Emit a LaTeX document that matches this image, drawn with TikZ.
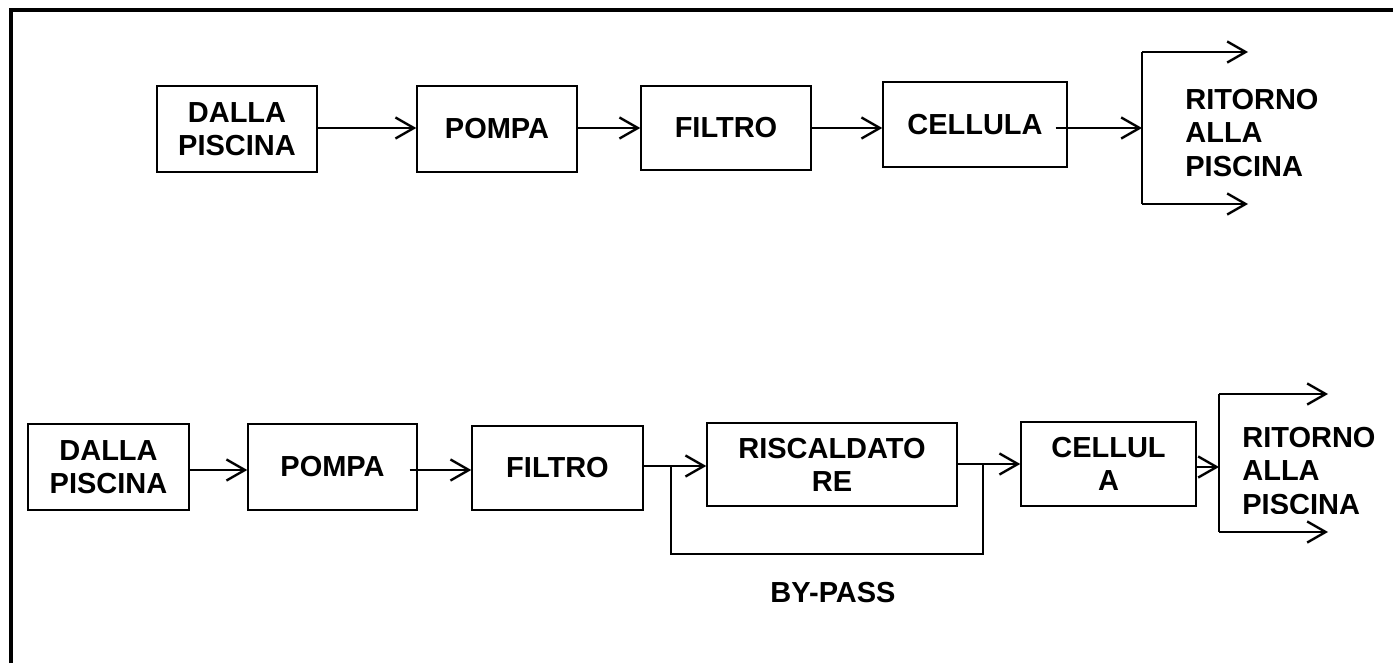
\documentclass[tikz,border=0pt]{standalone}
\usepackage{fontspec}
\setmainfont{Liberation Sans}
\usetikzlibrary{arrows.meta}
\begin{document}
\begin{tikzpicture}[x=0.02cm,y=-0.02cm,
  box/.style={draw,line width=0.85pt,align=center,inner sep=0pt,
    font=\bfseries\fontsize{16.5}{18.8}\selectfont},
  lbl/.style={align=left,inner sep=0pt,font=\bfseries\fontsize{16.5}{18.8}\selectfont},
  flow/.style={line width=1.35pt,-{Straight Barb[length=10.5pt,width=12pt,line width=1.35pt]}},
  pipe/.style={line width=1.35pt},
  frame/.style={line width=2.8pt,line join=miter}]
\useasboundingbox (0,0) rectangle (1393,663);
\draw[frame] (11,663) -- (11,10) -- (1393,10);
% top row
\node[box,minimum width=3.2cm,minimum height=1.72cm] (a1) at (237,129) {DALLA\\PISCINA};
\node[box,minimum width=3.2cm,minimum height=1.72cm] (a2) at (497,129) {POMPA};
\node[box,minimum width=3.4cm,minimum height=1.68cm] (a3) at (726,128) {FILTRO};
\node[box,minimum width=3.68cm,minimum height=1.7cm] (a4) at (975,124.5) {CELLULA};
\coordinate (at) at (1142,52);
\coordinate (am) at (1142,128);
\coordinate (ab) at (1142,204);
\coordinate (ato) at (1248,52);
\coordinate (abo) at (1248,204);
\node[lbl,anchor=west] (ar) at (1185,133) {RITORNO\\ALLA\\PISCINA};
\draw[flow] (a1.east |- 0,128) -- (a2.west |- 0,128);
\draw[flow] (a2.east |- 0,128) -- (a3.west |- 0,128);
\draw[flow] (a3.east |- 0,128) -- (a4.west |- 0,128);
\draw[flow] ([xshift=-0.24cm]a4.east |- 0,128) -- (am);
\draw[pipe] (at) -- (ab);
\draw[flow] (at) -- (ato);
\draw[flow] (ab) -- (abo);
% bottom row
\node[box,minimum width=3.22cm,minimum height=1.72cm] (b1) at (108.5,467) {DALLA\\PISCINA};
\node[box,minimum width=3.38cm,minimum height=1.72cm] (b2) at (332.5,467) {POMPA};
\node[box,minimum width=3.42cm,minimum height=1.68cm] (b3) at (557.5,468) {FILTRO};
\node[box,minimum width=5.0cm,minimum height=1.66cm] (b4) at (832,464.5) {RISCALDATO\\RE};
\node[box,minimum width=3.5cm,minimum height=1.68cm] (b5) at (1108.5,464) {CELLUL\\A};
\coordinate (bt) at (1219,394);
\coordinate (bm) at (1219,467);
\coordinate (bb) at (1219,532);
\coordinate (bto) at (1328,394);
\coordinate (bbo) at (1328,532);
\coordinate (p1) at (671,466);
\coordinate (p2) at (671,554);
\coordinate (p3) at (983,554);
\coordinate (p4) at (983,464);
\draw[flow] (b1.east |- 0,470) -- (b2.west |- 0,470);
\draw[flow] ([xshift=-0.16cm]b2.east |- 0,470) -- (b3.west |- 0,470);
\draw[flow] (b3.east |- 0,466) -- (b4.west |- 0,466);
\draw[flow] (b4.east |- 0,464) -- (b5.west |- 0,464);
\draw[flow] (b5.east |- 0,467) -- (bm);
\draw[pipe] (p1) -- (p2) -- (p3) -- (p4);
\draw[pipe] (bt) -- (bb);
\draw[flow] (bt) -- (bto);
\draw[flow] (bb) -- (bbo);
\begin{scope}
\clip (1225,380) rectangle (1393,513);
\node[lbl,anchor=west] (br) at (1242,471) {RITORNO\\ALLA\\PISCINA};
\end{scope}
\node[lbl,align=center] (bp) at (833,593) {BY-PASS};
\end{tikzpicture}
\end{document}
